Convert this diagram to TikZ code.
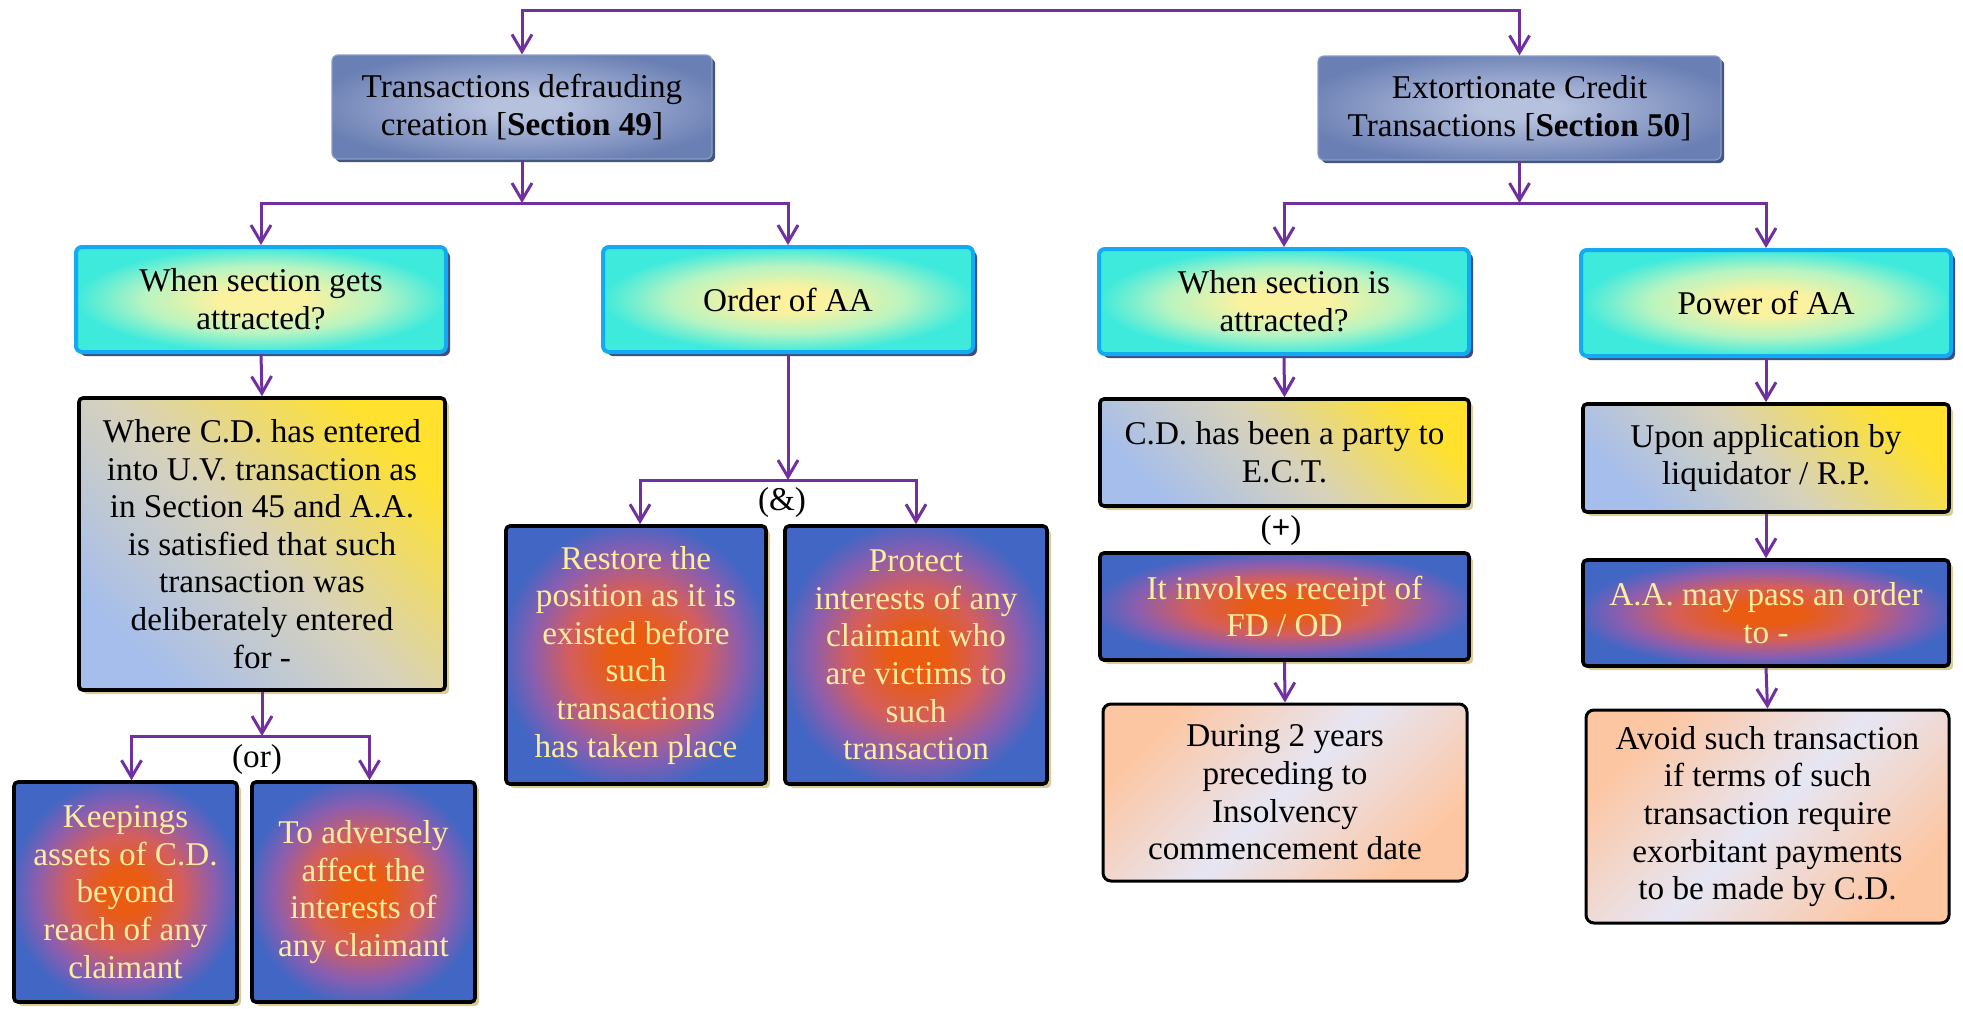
\documentclass[tikz,border=0pt]{standalone}
\usepackage{fontspec}
\setmainfont{Liberation Serif}
\usetikzlibrary{arrows.meta,shadows}

% palette
\definecolor{linkpurple}{HTML}{7030A0}
\definecolor{steelC}{HTML}{B6C1DE}
\definecolor{steelO}{HTML}{6A7FB3}
\definecolor{steelEdge}{HTML}{8A9CC8}
\definecolor{steelShadow}{HTML}{44577F}
\definecolor{aquaC}{HTML}{FBF2A0}
\definecolor{aquaM}{HTML}{B6F4C2}
\definecolor{aquaO}{HTML}{3EEADC}
\definecolor{aquaEdge}{HTML}{12AAF0}
\definecolor{aquaShadow}{HTML}{3D4F82}
\definecolor{tanY}{HTML}{FFE12E}
\definecolor{tanM}{HTML}{D8D2BA}
\definecolor{tanB}{HTML}{A6BEEC}
\definecolor{tanShadow}{HTML}{D9CC98}
\definecolor{hotO}{HTML}{E95C12}
\definecolor{hotR}{HTML}{D35E5E}
\definecolor{hotP}{HTML}{8C5EAE}
\definecolor{hotB}{HTML}{4266C4}
\definecolor{creamText}{HTML}{FFEC9E}
\definecolor{peach}{HTML}{FDC6A2}
\definecolor{lavender}{HTML}{E6E6F4}

% radial glows for the boxes
\pgfdeclareradialshading{steelglow}{\pgfpoint{0bp}{0bp}}{%
  color(0bp)=(steelC); color(5bp)=(steelC); color(28bp)=(steelO); color(50bp)=(steelO)}
\pgfdeclareradialshading{aquaglow}{\pgfpoint{0bp}{0bp}}{%
  color(0bp)=(aquaC); color(6bp)=(aquaC); color(16bp)=(aquaM); color(25bp)=(aquaO); color(50bp)=(aquaO)}
\pgfdeclareradialshading{hotglow}{\pgfpoint{0bp}{0bp}}{%
  color(0bp)=(hotO); color(5bp)=(hotO); color(13bp)=(hotR); color(20bp)=(hotP); color(26bp)=(hotB); color(50bp)=(hotB)}

\newcommand\bodyfont{\fontsize{16.6}{18.8}\selectfont}

\tikzset{
  wh/.style 2 args={minimum width={#1*0.5pt}, minimum height={#2*0.5pt}},
  basebox/.style={rectangle, rounded corners=3pt, align=center, inner sep=0pt, font=\bodyfont},
  topbox/.style={basebox, shading=steelglow, draw=steelEdge, line width=0.6pt,
    drop shadow={shadow xshift=1.6pt, shadow yshift=-1.6pt, fill=steelShadow, opacity=1}},
  qbox/.style={basebox, shading=aquaglow, draw=aquaEdge, line width=2pt,
    drop shadow={shadow xshift=2pt, shadow yshift=-2pt, fill=aquaShadow, opacity=1}},
  tanbox/.style={basebox, rounded corners=2pt, draw=black, line width=1.8pt,
    top color=tanY, bottom color=tanB, middle color=tanM, shading angle=-45,
    drop shadow={shadow xshift=2pt, shadow yshift=-2pt, fill=tanShadow, opacity=1}},
  hotbox/.style={basebox, rounded corners=2pt, draw=black, line width=1.8pt, shading=hotglow,
    text=creamText,
    drop shadow={shadow xshift=2pt, shadow yshift=-2pt, fill=tanShadow, opacity=1}},
  peachbox/.style={basebox, rounded corners=4pt, draw=black, line width=1.5pt,
    top color=peach, bottom color=peach, middle color=lavender, shading angle=45},
  tag/.style={font=\bodyfont, inner sep=0pt},
  link/.style={draw=linkpurple, line width=1.5pt},
  >={Straight Barb[length=8.5pt,width=10pt]}
}

\begin{document}
\begin{tikzpicture}[x=0.5pt,y=-0.5pt]
\useasboundingbox (0,0) rectangle (1963,1008);

% section headings
\node[topbox, wh={380}{104}] (sec49) at (522,107)
  {Transactions defrauding\\creation [\textbf{Section 49}]};
\node[topbox, wh={403}{104}] (sec50) at (1519.5,108)
  {Extortionate Credit\\Transactions [\textbf{Section 50}]};

% second level questions
\node[qbox, wh={370}{105}] (q1) at (261,299.5) {When section gets\\attracted?};
\node[qbox, wh={370}{105}] (order) at (788,299.5) {Order of AA};
\node[qbox, wh={370}{105}] (q2) at (1284,301.5) {When section is\\attracted?};
\node[qbox, wh={370}{106}] (power) at (1766,303) {Power of AA};

% Section 49 branch
\node[tanbox, wh={366}{292}] (where) at (262,544)
  {Where C.D. has entered\\into U.V. transaction as\\in Section 45 and A.A.\\is satisfied that such\\transaction was\\deliberately entered\\for -};
\node[hotbox, wh={223}{220}] (keep) at (125.5,892)
  {Keepings\\assets of C.D.\\beyond\\reach of any\\claimant};
\node[hotbox, wh={223}{220}] (adverse) at (363.5,892)
  {To adversely\\affect the\\interests of\\any claimant};
\node[hotbox, wh={260}{258}] (restore) at (636,655)
  {Restore the\\position as it is\\existed before\\such\\transactions\\has taken place};
\node[hotbox, wh={262}{258}] (protect) at (916,655)
  {Protect\\interests of any\\claimant who\\are victims to\\such\\transaction};

% Section 50 branch
\node[tanbox, wh={369}{107}] (ect) at (1284.5,452.5) {C.D. has been a party to\\E.C.T.};
\node[hotbox, wh={369}{107}] (fd) at (1284.5,606.5) {It involves receipt of\\FD / OD};
\node[peachbox, wh={364}{177}] (during) at (1285,792.5)
  {During 2 years\\preceding to\\Insolvency\\commencement date};
\node[tanbox, wh={366}{108}] (upon) at (1766,458) {Upon application by\\liquidator / R.P.};
\node[hotbox, wh={366}{106}] (aaorder) at (1766,613) {A.A. may pass an order\\to -};
\node[peachbox, wh={363}{213}] (avoid) at (1767.5,816.5)
  {Avoid such transaction\\if terms of such\\transaction require\\exorbitant payments\\to be made by C.D.};

% joining words
\node[tag] (orword) at (257,759) {(or)};
\node[tag] (andword) at (782,503) {(\&)};
\node[tag] (plusword) at (1281,531) {(\textbf{+})};

% junction points
\coordinate (ridge) at (1000,10);
\coordinate (j1) at (522,203);
\coordinate (j2) at (1519.5,203);
\coordinate (j3) at (262,736);
\coordinate (j4) at (788,480);

% connectors
\draw[link,<->] (sec49.north) |- (ridge) -| (sec50.north);

\draw[link,->] (sec49.south) -- (j1);
\draw[link,->] (j1) -| (q1.north);
\draw[link,->] (j1) -| (order.north);

\draw[link,->] (sec50.south) -- (j2);
\draw[link,->] (j2) -| (q2.north);
\draw[link,->] (j2) -| (power.north);

\draw[link,->] (q1.south) -- (where.north);
\draw[link,->] (where.south) -- (j3);
\draw[link,->] (j3) -| ([xshift=3pt]keep.north);
\draw[link,->] (j3) -| ([xshift=3pt]adverse.north);

\draw[link,->] (order.south) -- (j4);
\draw[link,->] (j4) -| ([xshift=2pt]restore.north);
\draw[link,->] (j4) -| (protect.north);

\draw[link,->] (q2.south) -- (ect.north);
\draw[link,->] (fd.south) -- (during.north);

\draw[link,->] (power.south) -- (upon.north);
\draw[link,->] (upon.south) -- (aaorder.north);
\draw[link,->] (aaorder.south) -- (avoid.north);
\end{tikzpicture}
\end{document}
